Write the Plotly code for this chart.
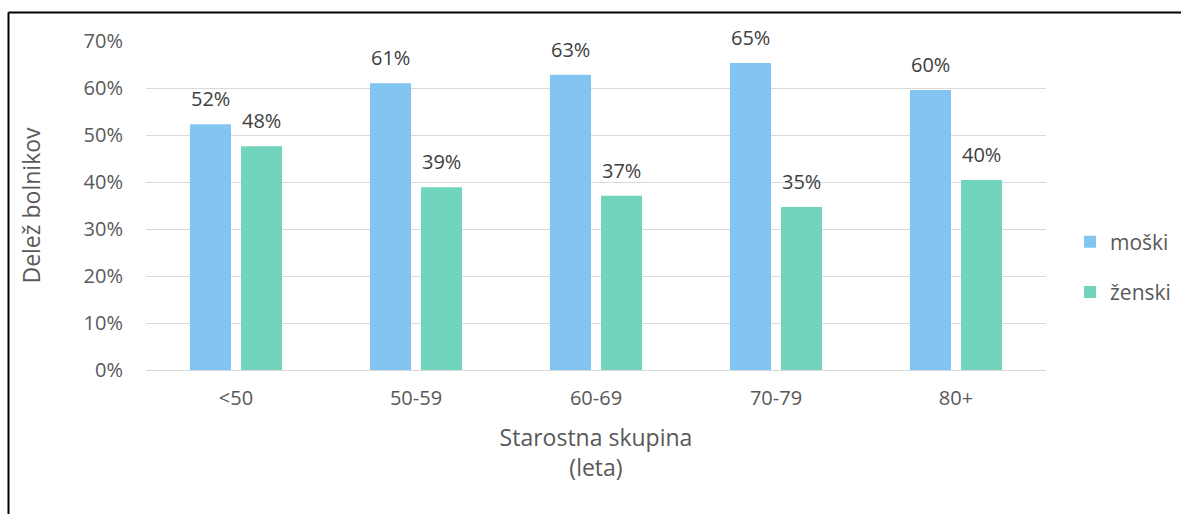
import plotly.graph_objects as go

# Shares of patients by age group and sex
age_groups = ["<50", "50-59", "60-69", "70-79", "80+"]
male_share = [0.523, 0.610, 0.628, 0.653, 0.596]
female_share = [0.476, 0.389, 0.371, 0.347, 0.404]
series_names = ["moški", "ženski"]
series_colors = ["#83C5F2", "#71D4BD"]

FONT = "Open Sans"
W, H = 1181, 514
ML, MR, MT, MB = 146, 135, 41, 144
PW, PH = W - ML - MR, H - MT - MB

BARGAP, GROUPGAP = 0.433, 0.196
slot_px = PW / len(age_groups) * (1 - BARGAP) / 2

fig = go.Figure()
for name, vals, col in zip(series_names, [male_share, female_share], series_colors):
    fig.add_trace(go.Bar(
        x=age_groups, y=vals, name=name,
        marker=dict(color=col, line=dict(color=col, width=0)),
        legendgroup=name, hoverinfo="x+y+name",
    ))

# value labels above each bar
for k, vals in enumerate([male_share, female_share]):
    offset = (k - 0.5) * slot_px
    for cat, v in zip(age_groups, vals):
        fig.add_annotation(
            x=cat, y=v, text=f"{v:.0%}", showarrow=False,
            xanchor="center", yanchor="bottom", xshift=offset, yshift=10,
            font=dict(family=FONT, size=20, color="#404040"),
        )

# frame along the left and top edges
def px_to_paper_x(px):
    return (px - ML) / PW

def px_to_paper_y(py):
    return (H - MB - py) / PH

frame = dict(color="black", width=2)
fig.add_shape(type="line", xref="paper", yref="paper",
              x0=px_to_paper_x(8.5), x1=px_to_paper_x(8.5),
              y0=px_to_paper_y(12.5), y1=px_to_paper_y(H + 5), line=frame)
fig.add_shape(type="line", xref="paper", yref="paper",
              x0=px_to_paper_x(8.5), x1=px_to_paper_x(W + 5),
              y0=px_to_paper_y(12.5), y1=px_to_paper_y(12.5), line=frame)

fig.update_layout(
    width=W, height=H,
    margin=dict(l=ML, r=MR, t=MT, b=MB, autoexpand=False),
    paper_bgcolor="white", plot_bgcolor="white",
    barmode="group", bargap=BARGAP, bargroupgap=GROUPGAP,
    font=dict(family=FONT, color="#595959"),
    legend=dict(
        x=px_to_paper_x(1070), y=px_to_paper_y(267), xanchor="left", yanchor="middle",
        font=dict(family=FONT, size=21, color="#595959"),
        tracegroupgap=20, itemwidth=30,
    ),
    xaxis=dict(
        showgrid=False, showline=True, linecolor="#D9D9D9", linewidth=1.3,
        ticks="", tickfont=dict(family=FONT, size=20, color="#595959"),
        ticklabelstandoff=10,
        title=dict(text="Starostna skupina<br>(leta)",
                   font=dict(family=FONT, size=23, color="#595959"), standoff=19),
    ),
    yaxis=dict(
        range=[0, 0.7], dtick=0.1, tickformat=".0%",
        showgrid=True, gridcolor="#D9D9D9", gridwidth=1.3, zeroline=False,
        ticks="", tickfont=dict(family=FONT, size=20, color="#595959"),
        ticklabelstandoff=22,
        title=dict(text="Delež bolnikov",
                   font=dict(family=FONT, size=23, color="#595959"), standoff=36),
    ),
)

fig.write_html("out.html")
